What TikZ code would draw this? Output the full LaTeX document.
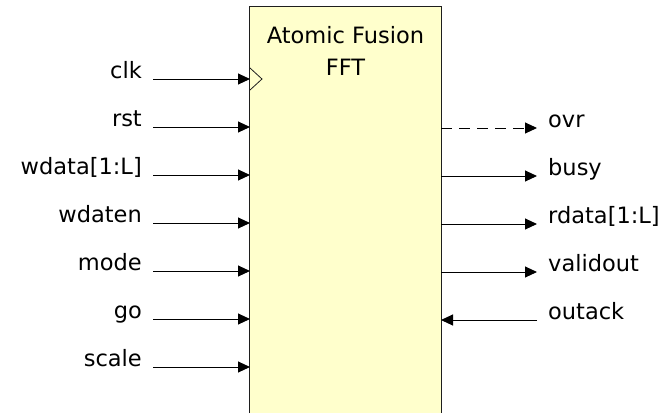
\documentclass[tikz,border=0pt]{standalone}
\usepackage{fontspec}
\setmainfont{DejaVu Sans}
\usetikzlibrary{arrows.meta}
\definecolor{boxfill}{RGB}{255,255,204}
\definecolor{boxline}{RGB}{30,30,30}
\begin{document}
\begin{tikzpicture}[x=1pt,y=-1pt,
  lbl/.style={inner sep=0pt,font=\fontsize{22.5}{27}\selectfont},
  sig/.style={line width=1pt,-{Triangle[length=12pt,width=11pt]}},
  box/.style={rectangle,fill=boxfill,draw=none,minimum width=191pt,minimum height=406pt,inner sep=0pt}]
\useasboundingbox (0,0) rectangle (672,413);
\fill[white] (0,0) rectangle (672,413);
\node[box] (fft) at (345.5,210) {};
\draw[boxline,line width=1pt] (fft.south west) -- (fft.north west) -- (fft.north east) -- (fft.south east);
\node[lbl,anchor=base] (t1) at (345.5,43) {Atomic Fusion};
\node[lbl,anchor=base] (t2) at (345.5,75) {FFT};
% clock triangle
\coordinate (ck1) at (250,68);
\coordinate (ck2) at (262,79);
\coordinate (ck3) at (250,90);
\draw[boxline,line width=0.8pt] (ck1) -- (ck2) -- (ck3);
% inputs
\foreach \n/\t/\y in {clk/clk/79, rst/rst/127, wdata/{wdata[1:L]}/175, wdaten/wdaten/223, mode/mode/271, go/go/319, scale/scale/367}{
  \node[lbl,anchor=base east] (\n) at (142,\y-1) {\t};
  \coordinate (\n p) at (250,\y);
  \coordinate (\n s) at (153,\y);
  \draw[sig] (\n s) -- (\n p);
}
% outputs
\foreach \n/\t/\y in {busy/busy/176, rdata/{rdata[1:L]}/224, validout/validout/272}{
  \node[lbl,anchor=base west] (\n) at (548,\y-1) {\t};
  \coordinate (\n p) at (441,\y);
  \coordinate (\n e) at (537,\y);
  \draw[sig] (\n p) -- (\n e);
}
\node[lbl,anchor=base west] (ovr) at (548,127) {ovr};
\coordinate (ovrp) at (441,128);
\coordinate (ovre) at (537,128);
\draw[sig,dash pattern=on 11pt off 7pt] (ovrp) -- (ovre);
\node[lbl,anchor=base west] (outack) at (548,319) {outack};
\coordinate (outackp) at (441,320);
\coordinate (outacks) at (537,320);
\draw[sig] (outacks) -- (outackp);
\end{tikzpicture}
\end{document}
